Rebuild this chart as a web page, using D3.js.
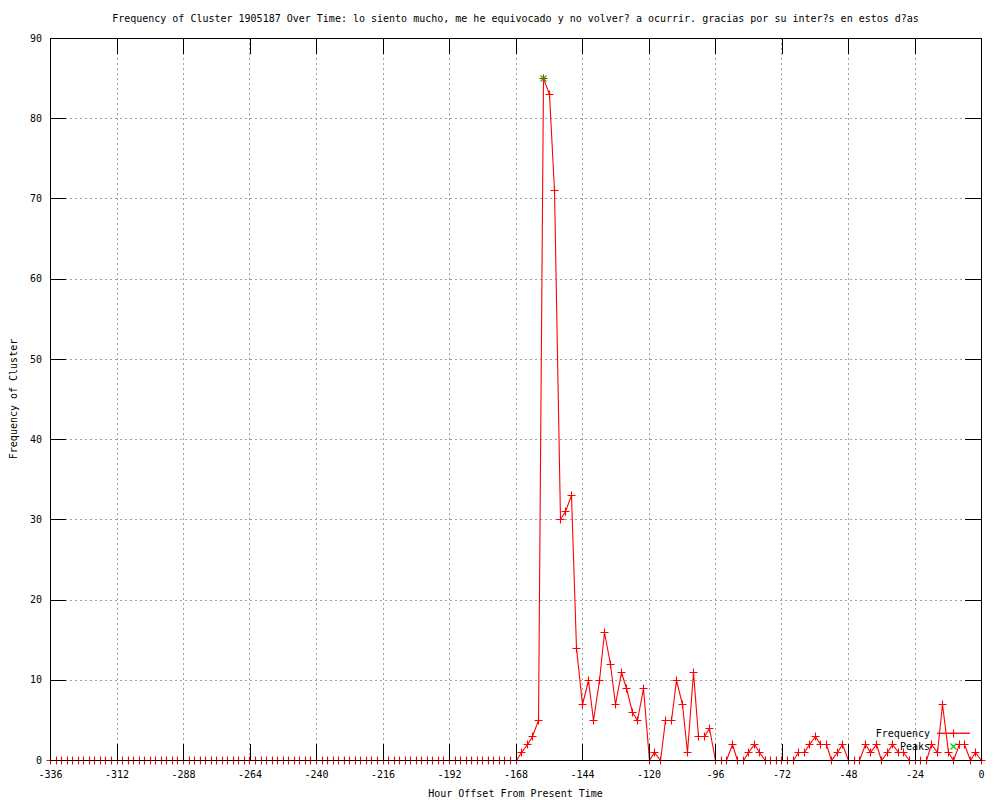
<!DOCTYPE html>
<html>
<head>
<meta charset="utf-8">
<script src="https://cdn.jsdelivr.net/npm/d3@7"></script>
<style>
  body { margin: 0; background: #fff; }
  text { font-family: "DejaVu Sans Mono", "Liberation Mono", monospace; font-size: 10px; fill: #000; }
</style>
</head>
<body>
<div id="vis"></div>
<script>

const title = "Frequency of Cluster 1905187 Over Time: lo siento mucho, me he equivocado y no volver? a ocurrir. gracias por su inter?s en estos d?as"

// hour offsets, one sample every 2 hours
const hours = [
  -336,-334,-332,-330,-328,-326,-324,-322,-320,-318,-316,-314,-312,-310,-308,-306,-304,-302,-300,-298,
  -296,-294,-292,-290,-288,-286,-284,-282,-280,-278,-276,-274,-272,-270,-268,-266,-264,-262,-260,-258,
  -256,-254,-252,-250,-248,-246,-244,-242,-240,-238,-236,-234,-232,-230,-228,-226,-224,-222,-220,-218,
  -216,-214,-212,-210,-208,-206,-204,-202,-200,-198,-196,-194,-192,-190,-188,-186,-184,-182,-180,-178,
  -176,-174,-172,-170,-168,-166,-164,-162,-160,-158,-156,-154,-152,-150,-148,-146,-144,-142,-140,-138,
  -136,-134,-132,-130,-128,-126,-124,-122,-120,-118,-116,-114,-112,-110,-108,-106,-104,-102,-100,-98,
  -96,-94,-92,-90,-88,-86,-84,-82,-80,-78,-76,-74,-72,-70,-68,-66,-64,-62,-60,-58,
  -56,-54,-52,-50,-48,-46,-44,-42,-40,-38,-36,-34,-32,-30,-28,-26,-24,-22,-20,-18,
  -16,-14,-12,-10,-8,-6,-4,-2,0
]

const frequency = [
  0,0,0,0,0,0,0,0,0,0,0,0,0,0,0,0,0,0,0,0,
  0,0,0,0,0,0,0,0,0,0,0,0,0,0,0,0,0,0,0,0,
  0,0,0,0,0,0,0,0,0,0,0,0,0,0,0,0,0,0,0,0,
  0,0,0,0,0,0,0,0,0,0,0,0,0,0,0,0,0,0,0,0,
  0,0,0,0,0,1,2,3,5,85,83,71,30,31,33,14,7,10,5,10,
  16,12,7,11,9,6,5,9,0,1,0,5,5,10,7,1,11,3,3,4,
  0,0,0,2,0,0,1,2,1,0,0,0,0,0,0,1,1,2,3,2,
  2,0,1,2,0,0,0,2,1,2,0,1,2,1,1,0,0,0,0,2,
  1,7,1,0,2,2,0,1,0
]

const peakHours = [-158]
const peakValues = [85]

const xTicks = [-336,-312,-288,-264,-240,-216,-192,-168,-144,-120,-96,-72,-48,-24,0]
const yTicks = [0,10,20,30,40,50,60,70,80,90]

const W = 1000, H = 800
const L = 50, R = 981, T = 38, B = 760

const svg = d3.select("#vis").append("svg").attr("width", W).attr("height", H)

const x = d3.scaleLinear().domain([-336, 0]).range([L, R])
const y = d3.scaleLinear().domain([0, 90]).range([B, T])

// snap to pixel centre so 1px strokes stay solid
const px = v => Math.round(v) + 0.5

// grid
const grid = svg.append("g").attr("stroke", "#a0a0a0").attr("stroke-dasharray", "2,3")
grid.selectAll(".gx").data(xTicks.slice(1, -1)).enter().append("line")
  .attr("x1", d => px(x(d))).attr("x2", d => px(x(d))).attr("y1", T).attr("y2", B)
grid.selectAll(".gy").data(yTicks.slice(1, -1)).enter().append("line")
  .attr("x1", L).attr("x2", R).attr("y1", d => px(y(d))).attr("y2", d => px(y(d)))

// frequency line + markers
const pts = hours.map((h, i) => ({h: h, v: frequency[i]}))
const line = d3.line().x(d => px(x(d.h))).y(d => px(y(d.v)))

svg.append("path").datum(pts).attr("d", line)
  .attr("fill", "none").attr("stroke", "#ff0000").attr("stroke-width", 1.1)

const plusPath = (cx, cy) => `M${cx - 4},${cy}H${cx + 4}M${cx},${cy - 4}V${cy + 4}`
const crossPath = (cx, cy) => `M${cx - 3},${cy - 3}L${cx + 3},${cy + 3}M${cx - 3},${cy + 3}L${cx + 3},${cy - 3}`

svg.append("path")
  .attr("d", pts.map(d => plusPath(px(x(d.h)), px(y(d.v)))).join(""))
  .attr("fill", "none").attr("stroke", "#ff0000").attr("stroke-width", 1.1)

svg.append("path")
  .attr("d", peakHours.map((h, i) => crossPath(px(x(h)), px(y(peakValues[i])))).join(""))
  .attr("fill", "none").attr("stroke", "#00c000").attr("stroke-width", 1.1)

// axes (ticks point inward, mirrored on top/right)
const axes = svg.append("g").attr("shape-rendering", "crispEdges")
axes.append("g").attr("transform", `translate(0,${B})`)
  .call(d3.axisBottom(x).tickValues(xTicks).tickSizeInner(-16).tickSizeOuter(0).tickPadding(11).tickFormat(d => String(d)))
axes.append("g").attr("transform", `translate(${L},0)`)
  .call(d3.axisLeft(y).tickValues(yTicks).tickSizeInner(-16).tickSizeOuter(0).tickPadding(8))
axes.append("g").attr("transform", `translate(0,${T})`)
  .call(d3.axisTop(x).tickValues(xTicks).tickSizeInner(-16).tickSizeOuter(0).tickFormat(""))
axes.append("g").attr("transform", `translate(${R},0)`)
  .call(d3.axisRight(y).tickValues(yTicks).tickSizeInner(-16).tickSizeOuter(0).tickFormat(""))

axes.selectAll(".domain").remove()
axes.selectAll(".tick line").attr("stroke", "#000")
axes.selectAll(".tick text").style("font-family", "DejaVu Sans Mono").style("font-size", "10px")

axes.append("rect").attr("x", L).attr("y", T).attr("width", R - L).attr("height", B - T)
  .attr("fill", "none").attr("stroke", "#000")

// titles
svg.append("text").attr("x", (L + R) / 2).attr("y", 22).attr("text-anchor", "middle").text(title)
svg.append("text").attr("x", (L + R) / 2).attr("y", 797).attr("text-anchor", "middle").text("Hour Offset From Present Time")
svg.append("text").attr("transform", `translate(17,${(T + B) / 2}) rotate(-90)`)
  .attr("text-anchor", "middle").text("Frequency of Cluster")

// key
const key = svg.append("g")
key.append("text").attr("x", 930).attr("y", 737).attr("text-anchor", "end").text("Frequency")
key.append("text").attr("x", 930).attr("y", 750).attr("text-anchor", "end").text("Peaks")
key.append("rect").attr("x", 937).attr("y", 732.6).attr("width", 33).attr("height", 1.3).attr("fill", "#ff0000")
key.append("path").attr("d", plusPath(953.5, 733.5))
  .attr("fill", "none").attr("stroke", "#ff0000").attr("stroke-width", 1.1)
key.append("path").attr("d", crossPath(953.5, 746.5))
  .attr("fill", "none").attr("stroke", "#00c000").attr("stroke-width", 1.1)

</script>
</body>
</html>
